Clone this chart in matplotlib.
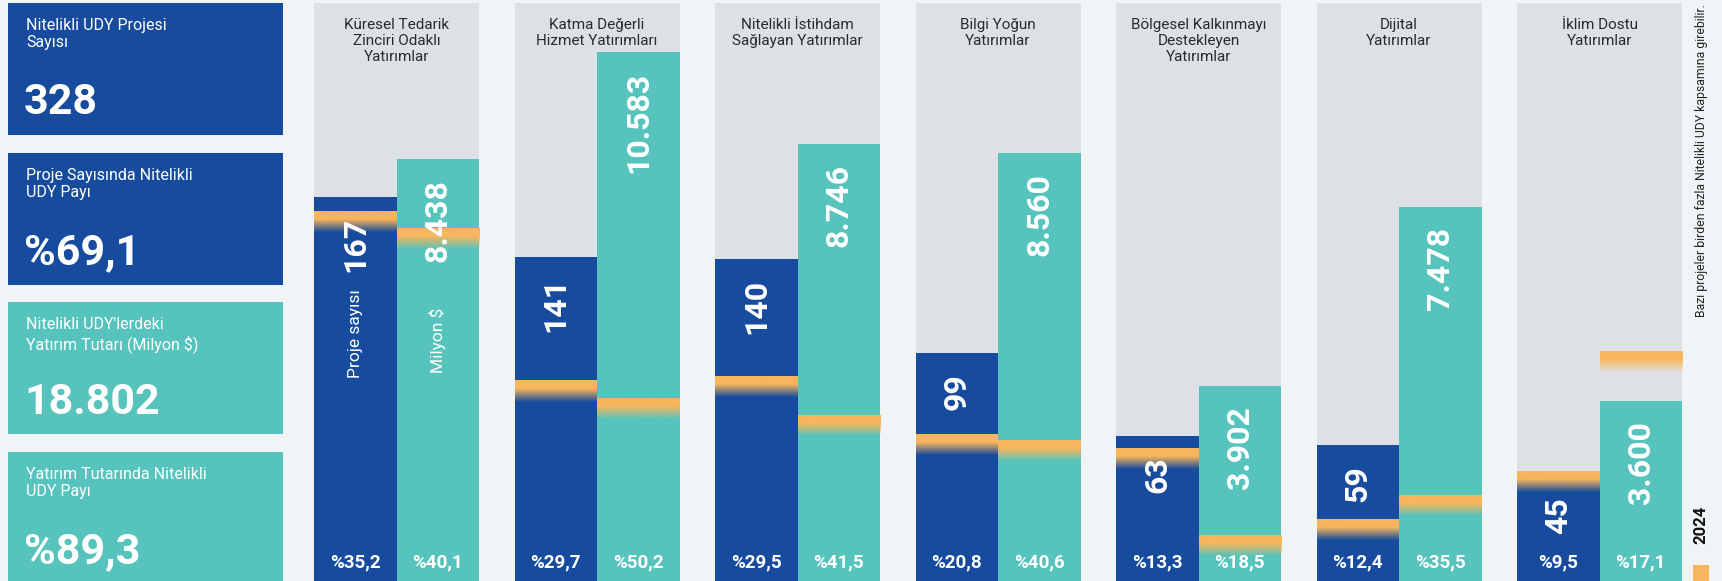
"""Nitelikli UDY: project counts vs investment amounts per category, with 2024 markers."""
import numpy as np
import matplotlib.pyplot as plt
from matplotlib.patches import Rectangle
from matplotlib.transforms import blended_transform_factory

plt.rcParams['font.family'] = ['Roboto', 'DejaVu Sans']

# ---- data -------------------------------------------------------------
categories = ["Küresel Tedarik\nZinciri Odaklı\nYatırımlar",
              "Katma Değerli\nHizmet Yatırımları",
              "Nitelikli İstihdam\nSağlayan Yatırımlar",
              "Bilgi Yoğun\nYatırımlar",
              "Bölgesel Kalkınmayı\nDestekleyen\nYatırımlar",
              "Dijital\nYatırımlar",
              "İklim Dostu\nYatırımlar"]
proje = [167, 141, 140, 99, 63, 59, 45]                          # proje sayısı
tutar = [8438, 10583, 8746, 8560, 3902, 7478, 3600]             # milyon $
proje_2024 = [161, 87, 89, 64, 58, 27, 48]
tutar_2024 = [7068, 3651, 3312, 2829, 918, 1717, 4594]
proje_pay = [35.2, 29.7, 29.5, 20.8, 13.3, 12.4, 9.5]
tutar_pay = [40.1, 50.2, 41.5, 40.6, 18.5, 35.5, 17.1]

kpi_titles = ["Nitelikli UDY Projesi\nSayısı",
              "Proje Sayısında Nitelikli\nUDY Payı",
              "Nitelikli UDY'lerdeki\nYatırım Tutarı (Milyon $)",
              "Yatırım Tutarında Nitelikli\nUDY Payı"]
kpi_values = ["328", "%69,1", "18.802", "%89,3"]

note = "Bazı projeler birden fazla Nitelikli UDY kapsamına girebilir."
legend_label = "2024"

# ---- style ------------------------------------------------------------
BG = "#F1F4F6"
GRAY = "#DDE1E5"
BLUE = "#164B9D"
TEAL = "#56C3BD"
ORANGE = "#F8B65C"
W, H = 1722, 581


def fx(px):
    return px / W


def fy(py):
    return 1 - py / H


def tr(s):
    return s.replace(",", "X").replace(".", ",").replace("X", ".")


def pct(v):
    return "%" + f"{v:.1f}".replace(".", ",")


fig = plt.figure(figsize=(W / 100, H / 100), dpi=100, facecolor=BG)

# ---- KPI boxes (left) -------------------------------------------------
boxes = [(3, 135, BLUE), (153, 285, BLUE), (302, 434, TEAL), (452, 590, TEAL)]
for (top, bot, col), title, val in zip(boxes, kpi_titles, kpi_values):
    fig.add_artist(Rectangle((fx(8), fy(bot)), fx(275), (bot - top) / H,
                             transform=fig.transFigure, color=col, lw=0))
    fig.text(fx(26), fy(top + 15), title, color="white", fontsize=11.5,
             va="top", ha="left", linespacing=1.2)
    fig.text(fx(24), fy(top + 100), val, color="white", fontsize=31,
             fontweight="bold", va="center", ha="left")

# ---- chart ------------------------------------------------------------
PX_P = 2.3     # px per project
PX_M = 0.05    # px per million $
pitch = 200.5
cw = 165 / pitch
bw = cw / 2
x = np.arange(len(categories))

ax_p = fig.add_axes([fx(314), 0, 1368 / W, 578 / H])
ax_m = ax_p.twinx()
for ax in (ax_p, ax_m):
    ax.set_axis_off()

for i in x:
    ax_p.axvspan(i, i + cw, color=GRAY, lw=0, zorder=0)

ax_p.bar(x + bw / 2, proje, width=bw, color=BLUE, lw=0, zorder=1)
ax_m.bar(x + bw * 1.5, tutar, width=bw, color=TEAL, lw=0, zorder=1)

# 2024 markers: solid orange band fading out downward
n = 60
alpha = np.clip(1 - (np.arange(n) - n * 0.38) / (n * 0.62), 0, 1)
grad = np.zeros((n, 1, 4))
grad[..., :3] = plt.matplotlib.colors.to_rgb(ORANGE)
grad[:, 0, 3] = alpha
MARK_PX = 21
for i in x:
    hp = MARK_PX / PX_P
    ax_p.imshow(grad, extent=(i, i + bw, proje_2024[i] - hp, proje_2024[i]),
                aspect="auto", origin="upper", zorder=2, interpolation="bilinear")
    hm = MARK_PX / PX_M
    ax_m.imshow(grad, extent=(i + bw, i + cw, tutar_2024[i] - hm, tutar_2024[i]),
                aspect="auto", origin="upper", zorder=2, interpolation="bilinear")

# value labels (rotated) and bottom shares
pt = 0.72  # points per pixel at dpi 100
for i in x:
    ax_p.annotate(str(proje[i]), (i + bw / 2, proje[i]), xytext=(0, -20 * pt),
                  textcoords="offset points", rotation=90, ha="center", va="top",
                  color="white", fontsize=23, fontweight="bold", zorder=5)
    ax_m.annotate(tr(f"{tutar[i]:,}"), (i + bw * 1.5, tutar[i]), xytext=(0, -20 * pt),
                  textcoords="offset points", rotation=90, ha="center", va="top",
                  color="white", fontsize=23, fontweight="bold", zorder=5)

# axis captions in the first column, below the value labels
ax_p.annotate("Proje sayısı", (bw / 2, proje[0]), xytext=(0, -92 * pt),
              textcoords="offset points", rotation=90, ha="center", va="top",
              color="white", fontsize=12.5, zorder=5)
ax_m.annotate("Milyon $", (bw * 1.5, tutar[0]), xytext=(0, -149 * pt),
              textcoords="offset points", rotation=90, ha="center", va="top",
              color="white", fontsize=12.5, zorder=5)

bt = blended_transform_factory(ax_m.transData, ax_m.transAxes)
for i in x:
    ax_m.text(i + bw / 2, 19 / 578, pct(proje_pay[i]), transform=bt, ha="center",
              va="center", color="white", fontsize=13.5, fontweight="bold", zorder=5)
    ax_m.text(i + bw * 1.5, 19 / 578, pct(tutar_pay[i]), transform=bt, ha="center",
              va="center", color="white", fontsize=13.5, fontweight="bold", zorder=5)
    ax_m.text(i + cw / 2, 1 - 15 / 578, categories[i], transform=bt, ha="center",
              va="top", color="#2b2b2b", fontsize=11, linespacing=1.2, zorder=5)

ax_p.set_xlim(0, x[-1] + cw)
ax_p.set_ylim(0, 578 / PX_P)
ax_m.set_ylim(0, 578 / PX_M)

# ---- note and legend (right) -------------------------------------------
fig.text(fx(1701), fy(4), note, rotation=90, ha="center", va="top",
         fontsize=8.8, color="#222222")
fig.add_artist(Rectangle((fx(1693), 0), fx(16), 16 / H, transform=fig.transFigure,
                         color=ORANGE, lw=0))
fig.text(fx(1701), fy(525), legend_label, rotation=90, ha="center", va="center",
         fontsize=12, fontweight="bold", color="#111111")

fig.savefig("out.png", dpi=100, facecolor=BG)
